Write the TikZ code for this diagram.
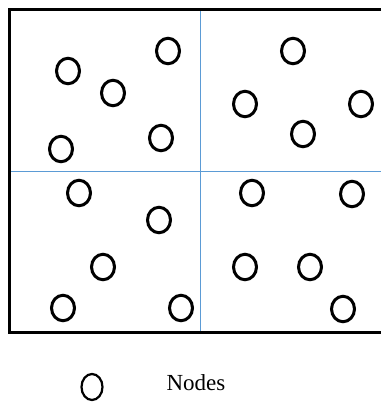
\documentclass[tikz,border=0pt]{standalone}
\usepackage{fontspec}
\setmainfont{Liberation Serif}
\usepackage{tikz}
\usepackage{xcolor}
\usetikzlibrary{shapes.geometric}
\definecolor{gridblue}{RGB}{91,155,213}
\tikzset{sensor/.style={ellipse,draw,line width=3pt,inner sep=0pt,
   minimum width=23pt,minimum height=25.5pt},
 legendnode/.style={ellipse,draw,line width=2.2pt,inner sep=0pt,
   minimum width=21pt,minimum height=26pt},
 divider/.style={draw=gridblue,line width=1pt},
 frame/.style={draw=black,line width=3pt},
 }

\begin{document}
\begin{tikzpicture}[x=1pt,y=-1pt]
        \useasboundingbox (0,0) rectangle (381,405);
        \coordinate (tl) at (9,9);
        \coordinate (tr) at (381,9);
        \coordinate (bl) at (9,332);
        \coordinate (br) at (381,332);
        \coordinate (vtop) at (200,9);
        \coordinate (vbot) at (200,332);
        \coordinate (hleft) at (9,171.5);
        \coordinate (hright) at (381,171.5);
        \draw[divider] (vtop) -- (vbot);
        \draw[divider] (hleft) -- (hright);
        \draw[frame] (tr) -- (tl) -- (bl) -- (br);
        % top left
        \node[sensor] (n1) at (68,71) {};
        \node[sensor] (n2) at (113,93) {};
        \node[sensor] (n3) at (168,51) {};
        \node[sensor] (n4) at (61,149) {};
        \node[sensor] (n5) at (161,138) {};
        % top right
        \node[sensor] (n6) at (293,51) {};
        \node[sensor] (n7) at (245,104) {};
        \node[sensor] (n8) at (361,104) {};
        \node[sensor] (n9) at (303,134) {};
        % bottom left
        \node[sensor] (n10) at (79,193) {};
        \node[sensor] (n11) at (159,220) {};
        \node[sensor] (n12) at (103,267) {};
        \node[sensor] (n13) at (63,308) {};
        \node[sensor] (n14) at (181,308) {};
        % bottom right
        \node[sensor] (n15) at (252,193) {};
        \node[sensor] (n16) at (352,194) {};
        \node[sensor] (n17) at (245,267) {};
        \node[sensor] (n18) at (310,267) {};
        \node[sensor] (n19) at (343,309) {};
        % legend
        \node[legendnode] (key) at (92,387) {};
        \node[font=\fontsize{23}{26}\selectfont] (keytext) at (196,383) {Nodes};
\end{tikzpicture}
\end{document}
